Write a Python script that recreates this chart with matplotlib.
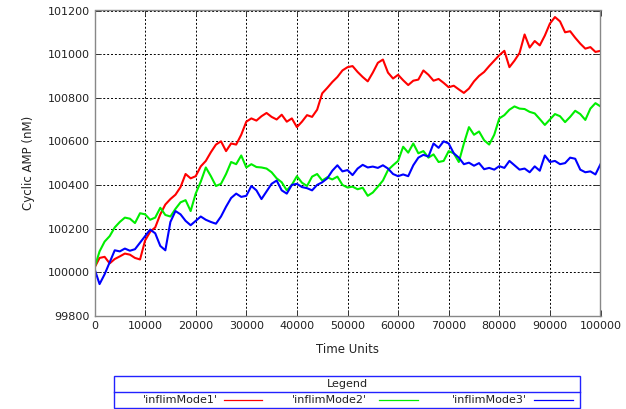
import numpy as np
import matplotlib.pyplot as plt
from matplotlib.patches import Rectangle
from matplotlib.lines import Line2D

# simulation output, sampled every 1000 time units
time_units = np.arange(0, 100001, 1000)

mode1 = [100020, 100065, 100070, 100040, 100060, 100072, 100085, 100080, 100065, 100058,
         100145, 100185, 100205, 100265, 100310, 100335, 100355, 100390, 100450, 100430,
         100440, 100485, 100510, 100550, 100585, 100600, 100555, 100590, 100585, 100630,
         100690, 100705, 100695, 100715, 100730, 100712, 100700, 100722, 100690, 100705,
         100665, 100690, 100720, 100712, 100745, 100820, 100845, 100872, 100895, 100925,
         100940, 100945, 100918, 100895, 100875, 100915, 100960, 100975, 100915, 100888,
         100905, 100880, 100858, 100878, 100883, 100925, 100905, 100878, 100886, 100868,
         100848, 100855, 100838, 100822, 100842, 100875, 100900, 100918, 100945, 100970,
         100995, 101015, 100940, 100970, 101005, 101090, 101030, 101060, 101040, 101085,
         101140, 101170, 101150, 101100, 101105, 101075, 101048, 101025, 101032, 101010,
         101015]

mode2 = [100020, 100095, 100140, 100165, 100205, 100230, 100250, 100245, 100225, 100270,
         100265, 100240, 100250, 100295, 100262, 100255, 100290, 100320, 100330, 100280,
         100360, 100415, 100480, 100440, 100395, 100405, 100450, 100505, 100495, 100535,
         100480, 100495, 100482, 100480, 100475, 100458, 100430, 100412, 100375, 100400,
         100440, 100410, 100395, 100438, 100450, 100420, 100435, 100425, 100438, 100400,
         100388, 100392, 100380, 100387, 100350, 100365, 100392, 100420, 100468, 100490,
         100510, 100575, 100548, 100590, 100545, 100555, 100525, 100540, 100505, 100510,
         100555, 100545, 100505, 100590, 100665, 100630, 100645, 100605, 100585, 100630,
         100705, 100720, 100745, 100760, 100750, 100748, 100735, 100728, 100702, 100675,
         100700, 100725, 100715, 100688, 100712, 100740, 100725, 100698, 100750, 100775,
         100760]

mode3 = [100015, 99945, 99990, 100045, 100100, 100095, 100108, 100098, 100105, 100135,
         100165, 100195, 100178, 100120, 100100, 100230, 100280, 100265, 100235, 100215,
         100235, 100255, 100240, 100230, 100222, 100255, 100300, 100340, 100360, 100345,
         100350, 100395, 100375, 100335, 100370, 100405, 100420, 100375, 100360, 100400,
         100405, 100390, 100385, 100375, 100400, 100412, 100430, 100465, 100490, 100462,
         100468, 100445, 100475, 100492, 100480, 100484, 100478, 100490, 100475, 100450,
         100440, 100448, 100440, 100490, 100525, 100538, 100530, 100590, 100570, 100600,
         100590, 100545, 100525, 100495, 100502, 100488, 100500, 100472, 100478, 100470,
         100486, 100478, 100510, 100490, 100470, 100475, 100458, 100485, 100465, 100535,
         100505, 100510, 100495, 100500, 100525, 100520, 100470, 100458, 100462, 100448,
         100495]

series = [("'inflimMode1'", mode1, "#ff0000"),
          ("'inflimMode2'", mode2, "#00ee00"),
          ("'inflimMode3'", mode3, "#0000ff")]

W, H = 626, 409
fig = plt.figure(figsize=(W / 100, H / 100), dpi=100)
ax = fig.add_axes([94.5 / W, 1 - 315.7 / H, 506 / W, 305.2 / H])

for name, vals, col in series:
    ax.plot(time_units, vals, color=col, lw=1.5)

ax.set_xlim(0, 100000)
ax.set_ylim(99800, 101200)
ax.set_xticks(np.arange(0, 100001, 10000))
ax.set_yticks(np.arange(99800, 101201, 200))
ax.grid(True, color="black", ls=(0, (2, 2)), lw=0.7)
ax.tick_params(direction="in", length=4, width=0.7, labelsize=8,
               top=True, right=True, colors="#333333", labelcolor="#222222")
for sp in ax.spines.values():
    sp.set_color("#888888")
    sp.set_linewidth(1.0)

ax.set_xlabel("Time Units", fontsize=8.5, labelpad=9, color="#222222")
ax.set_ylabel("Cyclic AMP (nM)", fontsize=8.5, labelpad=9, color="#222222")

# legend box drawn in pixel space below the axes
def px(x, y):
    return x / W, 1 - y / H

x0, y0 = px(114, 408)
x1, y1 = px(580, 376)
fig.patches.append(Rectangle((x0, y0), x1 - x0, y1 - y0, transform=fig.transFigure,
                             fill=False, edgecolor="#2222ff", lw=1.0))
dx0, dy = px(114, 392)
dx1, _ = px(580, 392)
fig.add_artist(Line2D([dx0, dx1], [dy, dy], transform=fig.transFigure,
                      color="#2222ff", lw=1.0))
tx, ty = px(347, 384)
fig.text(tx, ty, "Legend", ha="center", va="center", fontsize=8, color="#222222")

entries = [(218, 224, 262), (367, 379, 418), (527, 534, 573)]
for (name, vals, col), (txt_end, l0, l1) in zip(series, entries):
    ex, ey = px(txt_end, 400)
    fig.text(ex, ey, name, ha="right", va="center", fontsize=8, color="#222222")
    lx0, _ = px(l0, 400)
    lx1, _ = px(l1, 400)
    fig.add_artist(Line2D([lx0, lx1], [ey, ey], transform=fig.transFigure,
                          color=col, lw=0.9))

fig.savefig("out.png", dpi=100)
